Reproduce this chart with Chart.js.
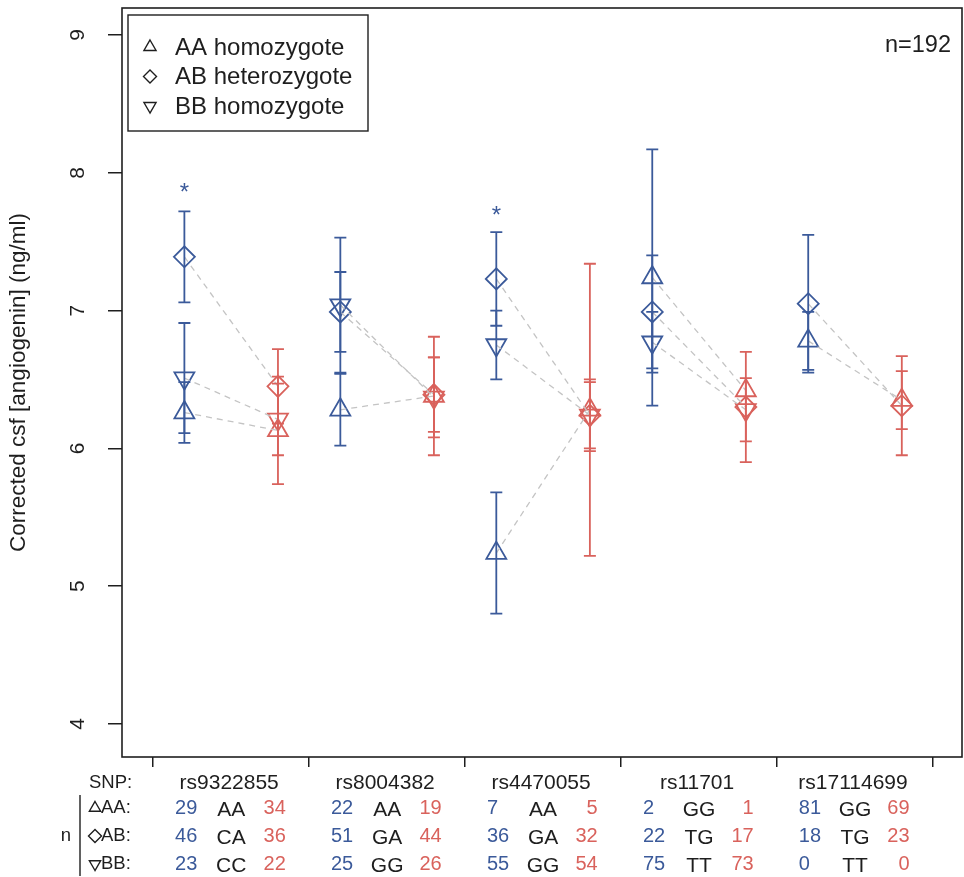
<!DOCTYPE html>
<html lang="en">
<head>
<meta charset="UTF-8">
<title>Corrected csf angiogenin by SNP genotype</title>
<script src="https://cdn.jsdelivr.net/npm/chart.js"></script>
<style>
  body { margin: 0; background: #fff; }
  #wrap { width: 964px; height: 877px; }
</style>
</head>
<body>
<div id="wrap"><canvas id="snpChart" width="964" height="877"></canvas></div>
<script>
// SNPs and genotype names (AA / AB / BB rows)
const snps = ['rs9322855', 'rs8004382', 'rs4470055', 'rs11701', 'rs17114699'];
const genoAA = ['AA', 'AA', 'AA', 'GG', 'GG'];
const genoAB = ['CA', 'GA', 'GA', 'TG', 'TG'];
const genoBB = ['CC', 'GG', 'GG', 'TT', 'TT'];
const groupTicks = [0, 1, 2, 3, 4, 5];
const yTicks = [4, 5, 6, 7, 8, 9];

// blue cohort: means and half error bar
const blueAA = [6.26, 6.28, 5.24, 7.24, 6.78];
const blueAAerr = [0.22, 0.26, 0.44, 0.93, 0.21];
const blueAB = [7.39, 6.99, 7.23, 6.99, 7.05];
const blueABerr = [0.33, 0.29, 0.34, 0.41, 0.50];
const blueBB = [6.51, 7.04, 6.75, 6.77, null];
const blueBBerr = [0.40, 0.49, 0.25, 0.22, null];

// red cohort
const redAA = [6.13, 6.38, 6.28, 6.42, 6.35];
const redAAerr = [0.39, 0.43, 1.06, null, 0.21];
const redAB = [6.45, 6.39, 6.24, 6.30, 6.31];
const redABerr = [0.27, 0.27, 0.26, 0.40, 0.36];
const redBB = [6.21, 6.37, 6.24, 6.28, null];
const redBBerr = [0.26, 0.29, 0.24, 0.23, null];

// sample counts per genotype
const nBlueAA = [29, 22, 7, 2, 81];
const nBlueAB = [46, 51, 36, 22, 18];
const nBlueBB = [23, 25, 55, 75, 0];
const nRedAA = [34, 19, 5, 1, 69];
const nRedAB = [36, 44, 32, 17, 23];
const nRedBB = [22, 26, 54, 73, 0];

// significance stars (blue cohort)
const starY = [7.89, null, 7.72, null, null];

const blue = '#3b5a9a';
const red = '#d9625c';
const ink = '#1e1e1e';
const FONT = '"Liberation Sans", Arial, Helvetica, sans-serif';
const BLUE_X = 0.2, RED_X = 0.8;

function pts(vals, off) {
    return vals.map((v, i) => ({ x: i + off, y: v }));
}

function link(b, r) {
    const out = [];
    b.forEach((v, i) => {
        out.push({ x: i + BLUE_X, y: v }, { x: i + RED_X, y: r[i] }, { x: i + 0.9, y: null });
    });
    return out;
}

function linkSet(b, r) {
    return {
        data: link(b, r), showLine: true, borderColor: '#c4c4c4', borderWidth: 1.3,
        borderDash: [6, 5], pointRadius: 0, spanGaps: false
    };
}

function markerSet(vals, errs, off, color, style, rot) {
    return {
        data: pts(vals, off), errors: errs, errColor: color,
        pointStyle: style, pointRotation: rot,
        pointRadius: style === 'triangle' ? 11.5 : 10.5,
        pointBorderWidth: 1.8, pointBorderColor: color,
        pointBackgroundColor: 'rgba(0,0,0,0)', showLine: false
    };
}

const errorBars = {
    id: 'errorBars',
    afterDatasetsDraw(chart) {
        const { ctx } = chart;
        const y = chart.scales.y;
        chart.data.datasets.forEach((ds, i) => {
            if (!ds.errors) return;
            const meta = chart.getDatasetMeta(i);
            ctx.save();
            ctx.strokeStyle = ds.errColor;
            ctx.lineWidth = 1.8;
            meta.data.forEach((el, j) => {
                const e = ds.errors[j];
                const v = ds.data[j].y;
                if (e == null || v == null) return;
                const top = y.getPixelForValue(v + e);
                const bot = y.getPixelForValue(v - e);
                ctx.beginPath();
                ctx.moveTo(el.x, top); ctx.lineTo(el.x, bot);
                ctx.moveTo(el.x - 6, top); ctx.lineTo(el.x + 6, top);
                ctx.moveTo(el.x - 6, bot); ctx.lineTo(el.x + 6, bot);
                ctx.stroke();
            });
            ctx.restore();
        });
    }
};

// outline marker (drawPoint fills too, so clear the fill first)
function outline(ctx, style, radius, rot, x, y) {
    ctx.fillStyle = 'rgba(0,0,0,0)';
    ctx.strokeStyle = ink;
    Chart.helpers.drawPoint(ctx, { pointStyle: style, radius: radius, rotation: rot, borderWidth: 1.4 }, x, y);
}

const decorations = {
    id: 'decorations',
    afterDraw(chart) {
        const { ctx, chartArea: a } = chart;
        const xs = chart.scales.x, ys = chart.scales.y;
        ctx.save();

        // plot frame
        ctx.strokeStyle = ink;
        ctx.lineWidth = 1.6;
        ctx.strokeRect(a.left, a.top, a.right - a.left, a.bottom - a.top);

        // stars
        ctx.fillStyle = blue;
        ctx.font = '24px ' + FONT;
        ctx.textAlign = 'center';
        ctx.textBaseline = 'middle';
        starY.forEach((v, i) => {
            if (v == null) return;
            ctx.fillText('*', xs.getPixelForValue(i + BLUE_X), ys.getPixelForValue(v) + 5);
        });

        // n label
        ctx.fillStyle = ink;
        ctx.font = '23.5px ' + FONT;
        ctx.textAlign = 'right';
        ctx.fillText('n=192', a.right - 11, a.top + 38);

        // legend
        const lx = a.left + 6, ly = a.top + 7;
        ctx.lineWidth = 1.4;
        ctx.strokeStyle = ink;
        ctx.strokeRect(lx, ly, 240, 116);
        const legendRows = [
            ['AA homozygote', 'triangle', 0],
            ['AB heterozygote', 'rectRot', 0],
            ['BB homozygote', 'triangle', 180]
        ];
        ctx.font = '24px ' + FONT;
        ctx.textAlign = 'left';
        legendRows.forEach((r, k) => {
            const yy = ly + 32 + k * 29.5;
            outline(ctx, r[1], r[1] === 'triangle' ? 7 : 6.5, r[2], lx + 22, yy);
            ctx.fillStyle = ink;
            ctx.fillText(r[0], lx + 47, yy + 1);
        });

        // table under the axis
        const rowY = [a.bottom + 26, a.bottom + 51, a.bottom + 79, a.bottom + 107];
        ctx.font = '18.5px ' + FONT;
        ctx.fillStyle = ink;
        ctx.textAlign = 'left';
        ctx.fillText('SNP:', 89, rowY[0]);
        const rowLabels = [['AA:', 'triangle', 0], ['AB:', 'rectRot', 0], ['BB:', 'triangle', 180]];
        rowLabels.forEach((r, k) => {
            outline(ctx, r[1], 6.5, r[2], 95, rowY[k + 1]);
            ctx.fillStyle = ink;
            ctx.fillText(r[0], 101, rowY[k + 1]);
        });
        ctx.textAlign = 'center';
        ctx.fillText('n', 66, rowY[2]);
        ctx.strokeStyle = ink;
        ctx.lineWidth = 1.4;
        ctx.beginPath();
        ctx.moveTo(80, a.bottom + 38);
        ctx.lineTo(80, a.bottom + 119);
        ctx.stroke();

        const genos = [genoAA, genoAB, genoBB];
        const nb = [nBlueAA, nBlueAB, nBlueBB];
        const nr = [nRedAA, nRedAB, nRedBB];
        snps.forEach((s, i) => {
            const cx = xs.getPixelForValue(i + 0.5);
            ctx.textAlign = 'center';
            ctx.fillStyle = ink;
            ctx.font = '21px ' + FONT;
            ctx.fillText(s, cx - 2, rowY[0]);
            for (let k = 0; k < 3; k++) {
                ctx.font = '21px ' + FONT;
                ctx.textAlign = 'center';
                ctx.fillStyle = ink;
                ctx.fillText(genos[k][i], cx, rowY[k + 1] + 2);
                ctx.font = '20px ' + FONT;
                ctx.textAlign = 'left';
                ctx.fillStyle = blue;
                ctx.fillText(String(nb[k][i]), xs.getPixelForValue(i + 0.14), rowY[k + 1]);
                ctx.textAlign = 'right';
                ctx.fillStyle = red;
                ctx.fillText(String(nr[k][i]), xs.getPixelForValue(i + 0.85), rowY[k + 1]);
            }
        });
        ctx.restore();
    }
};

const ctx = document.getElementById('snpChart').getContext('2d');
new Chart(ctx, {
    type: 'scatter',
    data: {
        datasets: [
            linkSet(blueAA, redAA),
            linkSet(blueAB, redAB),
            linkSet(blueBB, redBB),
            markerSet(blueAA, blueAAerr, BLUE_X, blue, 'triangle', 0),
            markerSet(blueAB, blueABerr, BLUE_X, blue, 'rectRot', 0),
            markerSet(blueBB, blueBBerr, BLUE_X, blue, 'triangle', 180),
            markerSet(redAA, redAAerr, RED_X, red, 'triangle', 0),
            markerSet(redAB, redABerr, RED_X, red, 'rectRot', 0),
            markerSet(redBB, redBBerr, RED_X, red, 'triangle', 180)
        ]
    },
    options: {
        responsive: false,
        animation: false,
        events: [],
        layout: { autoPadding: false, padding: { top: 8, right: 2, left: 0, bottom: 0 } },
        plugins: { legend: { display: false }, tooltip: { enabled: false } },
        scales: {
            x: {
                type: 'linear',
                min: -0.2,
                max: 5.186,
                afterBuildTicks: (s) => { s.ticks = groupTicks.map(v => ({ value: v })); },
                afterFit: (s) => {
                    s.height = 120;
                    s.paddingLeft = 0; s.paddingRight = 0; s.paddingTop = 0; s.paddingBottom = 0;
                },
                border: { display: false },
                grid: { drawOnChartArea: false, tickLength: 10, color: ink, lineWidth: 1.5 },
                ticks: { display: false }
            },
            y: {
                min: 3.76,
                max: 9.196,
                afterBuildTicks: (s) => { s.ticks = yTicks.map(v => ({ value: v })); },
                afterFit: (s) => {
                    s.width = 122;
                    s.paddingLeft = 0; s.paddingRight = 0; s.paddingTop = 0; s.paddingBottom = 0;
                },
                border: { display: false },
                grid: { drawOnChartArea: false, tickLength: 14, color: ink, lineWidth: 1.5 },
                ticks: {
                    color: ink,
                    font: { family: FONT, size: 21 },
                    minRotation: 90,
                    maxRotation: 90,
                    crossAlign: 'center',
                    padding: 24
                },
                title: {
                    display: true,
                    text: 'Corrected csf [angiogenin] (ng/ml)',
                    color: ink,
                    font: { family: FONT, size: 22.5 },
                    padding: { top: 5, bottom: 0 }
                }
            }
        }
    },
    plugins: [errorBars, decorations]
});
</script>
</body>
</html>
